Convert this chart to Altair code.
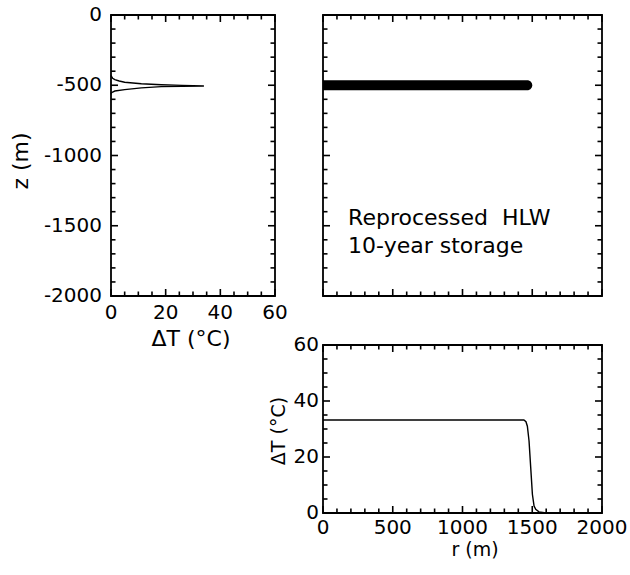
import altair as alt
import pandas as pd

# Vertical temperature-rise profile through the repository plane (left panel)
profile_z = [-430, -436, -450, -460, -470, -479, -489, -496, -501, -505,
             -508, -510, -519, -531, -541, -548, -555, -565]
profile_dT = [0, 0.1, 0.6, 1.4, 3.0, 5.0, 11.1, 18.4, 26.0, 34.0,
              26.0, 18.4, 11.1, 5.0, 1.4, 0.6, 0.1, 0]

# Radial temperature-rise profile at repository depth (bottom panel)
radial_r = [0, 500, 1000, 1440, 1455, 1465, 1477, 1489, 1501, 1513, 1525, 1548, 1600]
radial_dT = [33.2, 33.2, 33.2, 33.2, 32.6, 31.0, 25.7, 16.2, 6.7, 2.5, 1.3, 0.4, 0]

# Heated repository zone in the r-z plane (top-right panel)
repo_r = [0, 1500]
repo_z = [-536, -465]

note_lines = ["Reprocessed\u00a0\u00a0HLW", "10-year storage"]
note_r = [180, 180]
note_z = [-1495, -1694]

# Tick values
dT_major = [0, 20, 40, 60]
dT_minor = [v for v in range(0, 61, 5) if v % 20]
z_major = [0, -500, -1000, -1500, -2000]
z_minor = [-v for v in range(0, 2001, 100) if v % 500]
r_major = [0, 500, 1000, 1500, 2000]
r_minor = [v for v in range(0, 2001, 100) if v % 500]

FONT = "DejaVu Sans"
LABEL_SIZE = 20
MAJOR, MINOR = 7, 4.5      # tick lengths in pixels
TICK_W = 1.6

DT_DOM, Z_DOM, R_DOM = [0, 60], [-2000, 0], [0, 2000]
dT_scale = alt.Scale(domain=DT_DOM, nice=False, zero=False)
z_scale = alt.Scale(domain=Z_DOM, nice=False, zero=False)
r_scale = alt.Scale(domain=R_DOM, nice=False, zero=False)


def tick_rows(major, minor, cross_dom, cross_px):
    """Inward ticks at both ends of the cross axis, lengths converted to data units."""
    lo, hi = cross_dom
    per_px = (hi - lo) / cross_px
    pos, a, b = [], [], []
    for vals, size in [(major, MAJOR), (minor, MINOR)]:
        length = size * per_px
        for v in vals:
            pos += [v, v]
            a += [lo, hi]
            b += [lo + length, hi - length]
    return pd.DataFrame({"p": pos, "a": a, "b": b})


def frame_ticks(xsc, ysc, xdom, ydom, xmaj, xmin, ymaj, ymin, W, H):
    xt = tick_rows(xmaj, xmin, ydom, H)
    yt = tick_rows(ymaj, ymin, xdom, W)
    x_ticks = alt.Chart(xt).mark_rule(color="black", strokeWidth=TICK_W).encode(
        x=alt.X("p:Q", scale=xsc, axis=None),
        y=alt.Y("a:Q", scale=ysc, axis=None), y2="b:Q",
    )
    y_ticks = alt.Chart(yt).mark_rule(color="black", strokeWidth=TICK_W).encode(
        y=alt.Y("p:Q", scale=ysc, axis=None),
        x=alt.X("a:Q", scale=xsc, axis=None), x2="b:Q",
    )
    return [x_ticks, y_ticks]


def x_tick_labels(vals, xsc, ypix):
    d = pd.DataFrame({"lx": vals, "t": [str(v) for v in vals]})
    return alt.Chart(d).mark_text(
        font=FONT, fontSize=LABEL_SIZE, color="black", align="center", baseline="middle"
    ).encode(x=alt.X("lx:Q", scale=xsc, axis=None), y=alt.value(ypix), text="t:N")


def y_tick_labels(vals, ysc, xpix):
    d = pd.DataFrame({"ly": vals, "t": [str(v) for v in vals]})
    return alt.Chart(d).mark_text(
        font=FONT, fontSize=LABEL_SIZE, color="black", align="right", baseline="middle"
    ).encode(y=alt.Y("ly:Q", scale=ysc, axis=None), x=alt.value(xpix), text="t:N")


def axis_title(text, xpix, ypix, size, vertical=False):
    d = pd.DataFrame({"t": [text]})
    return alt.Chart(d).mark_text(
        font=FONT, fontSize=size, color="black", align="center", baseline="middle",
        angle=270 if vertical else 0,
    ).encode(x=alt.value(xpix), y=alt.value(ypix), text="t:N")


# ---- left panel: dT versus depth ----
LW, LH = 164, 281
prof = pd.DataFrame({"dT": profile_dT, "z": profile_z, "k": list(range(len(profile_z)))})
left_line = alt.Chart(prof).mark_line(color="black", strokeWidth=1.4).encode(
    x=alt.X("dT:Q", scale=dT_scale, axis=None),
    y=alt.Y("z:Q", scale=z_scale, axis=None),
    order="k:Q",
)
left = alt.layer(
    left_line,
    *frame_ticks(dT_scale, z_scale, DT_DOM, Z_DOM, dT_major, dT_minor, z_major, z_minor, LW, LH),
    x_tick_labels(dT_major, dT_scale, LH + 17),
    y_tick_labels(z_major, z_scale, -9),
    axis_title("ΔT (°C)", LW / 2 - 2, LH + 43, 22),
    axis_title("z (m)", -90, 146, 22, vertical=True),
).properties(width=LW, height=LH)

# ---- top-right panel: repository location in r-z ----
TW, TH = 279, 281
repo = pd.DataFrame({"r0": [repo_r[0]], "r1": [repo_r[1]], "z0": [repo_z[0]], "z1": [repo_z[1]]})
band = alt.Chart(repo).mark_rect(
    color="black", cornerRadiusTopRight=5, cornerRadiusBottomRight=5
).encode(
    x=alt.X("r0:Q", scale=r_scale, axis=None), x2="r1:Q",
    y=alt.Y("z0:Q", scale=z_scale, axis=None), y2="z1:Q",
)
notes = pd.DataFrame({"r": note_r, "z": note_z, "t": note_lines})
note_text = alt.Chart(notes).mark_text(
    align="left", baseline="alphabetic", font=FONT, fontSize=22, color="black"
).encode(
    x=alt.X("r:Q", scale=r_scale, axis=None),
    y=alt.Y("z:Q", scale=z_scale, axis=None),
    text="t:N",
)
top_right = alt.layer(
    band, note_text,
    *frame_ticks(r_scale, z_scale, R_DOM, Z_DOM, r_major, r_minor, z_major, z_minor, TW, TH),
).properties(width=TW, height=TH)

# ---- bottom panel: dT versus radius ----
BW, BH = 279, 168
rad = pd.DataFrame({"r": radial_r, "dT": radial_dT})
bottom_line = alt.Chart(rad).mark_line(color="black", strokeWidth=1.4).encode(
    x=alt.X("r:Q", scale=r_scale, axis=None),
    y=alt.Y("dT:Q", scale=dT_scale, axis=None),
)
bottom = alt.layer(
    bottom_line,
    *frame_ticks(r_scale, dT_scale, R_DOM, DT_DOM, r_major, r_minor, dT_major, dT_minor, BW, BH),
    x_tick_labels(r_major, r_scale, BH + 15),
    y_tick_labels(dT_major, dT_scale, -4),
    axis_title("r (m)", 152, BH + 37, 19),
    axis_title("ΔT (°C)", -44, 86, 19, vertical=True),
).properties(width=BW, height=BH)

right_col = alt.vconcat(top_right, bottom, spacing=49, bounds="flush")

chart = alt.hconcat(left, right_col, spacing=48, bounds="flush").configure_view(
    stroke="black", strokeWidth=1.8
).properties(
    padding={"left": 9, "top": 4, "right": 0, "bottom": 0},
    background="white",
)

chart.save("out.html", embed_options={"renderer": "svg", "actions": False})
